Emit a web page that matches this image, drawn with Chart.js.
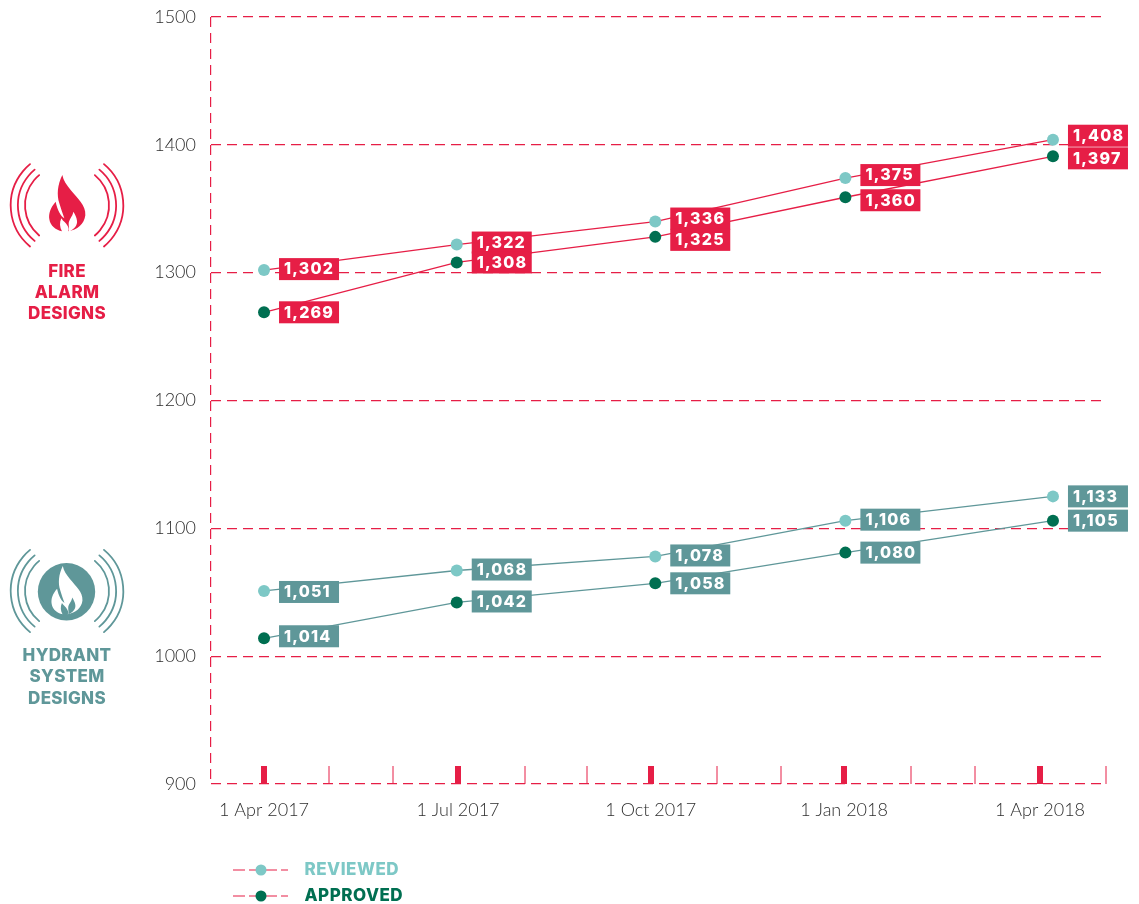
<!DOCTYPE html>
<html><head><meta charset="utf-8">
<style>html,body{margin:0;padding:0;background:#fff;overflow:hidden}canvas{display:block}</style>
<script src="https://cdn.jsdelivr.net/npm/chart.js@4/dist/chart.umd.min.js"></script>
</head><body><canvas id="c" width="1139" height="904"></canvas>
<script>
// Months since 1 Apr 2017 at which each reading sits
const readingMonths = [0, 2.98, 6.05, 8.99, 12.2];
// Values as plotted
const fireReviewed = [1302, 1322, 1340, 1374, 1404];
const fireApproved = [1269, 1308, 1328, 1359, 1391];
const hydrantReviewed = [1051, 1067, 1078, 1106, 1125];
const hydrantApproved = [1014, 1042, 1057, 1081, 1106];
// Values as printed on the labels
const fireReviewedPrinted = [1302, 1322, 1336, 1375, 1408];
const fireApprovedPrinted = [1269, 1308, 1325, 1360, 1397];
const hydrantReviewedPrinted = [1051, 1068, 1078, 1106, 1133];
const hydrantApprovedPrinted = [1014, 1042, 1058, 1080, 1105];
// Axis ticks
const yTicks = [900, 1000, 1100, 1200, 1300, 1400, 1500];
const monthTicks = [0, 1, 2, 3, 4.03, 5, 5.98, 7, 8, 8.97, 10, 11, 12, 13.02];
const majorTicks = [0, 3, 5.98, 8.97, 12];
const majorTickLabels = ['1 Apr 2017', '1 Jul 2017', '1 Oct 2017', '1 Jan 2018', '1 Apr 2018'];
const seriesNames = ['REVIEWED', 'APPROVED'];

const X_MIN = -0.82, X_MAX = 13.02;
const RED = '#e61e46', TEAL = '#5f9799', LIGHT = '#7dc8c6', DARK = '#006f51';
const labelShift = [[-1,-2,-3,-3,-4],[0,0,3,3,2],[1,-1,-1,-1,0],[-2,-1,0,0,0]];
const printed = [fireReviewedPrinted, fireApprovedPrinted, hydrantReviewedPrinted, hydrantApprovedPrinted];
const HEAVY = '800 16px Inter';
const HEAVY_TITLE = '800 17px Inter';

function series(values, line, point) {
  return {
    data: values.map((v, i) => ({x: readingMonths[i], y: v})),
    borderColor: line, borderWidth: 1.3, pointBackgroundColor: point, pointBorderColor: point,
    pointRadius: 6, pointBorderWidth: 0, tension: 0, fill: false, clip: false
  };
}

const FLAME = new Path2D('M187,75 C172,105 170,135 178,160 C182,175 188,190 193,205 C182,198 172,180 167,155 C152,172 145,190 148,208 C151,228 168,240 186,244 C179,232 178,218 184,205 C190,215 198,218 203,228 C207,235 207,240 204,244 C232,240 253,222 256,196 C258,165 232,145 212,120 C200,105 190,92 187,75 Z');
const FLAME_INNER = new Path2D('M220,185 C218,200 206,208 206,222 C206,232 209,240 205,246 C222,238 233,226 231,212 C230,202 225,193 220,185 Z');

function arcs(ctx, cx, cy, color) {
  ctx.save();
  ctx.strokeStyle = color; ctx.lineWidth = 1.8; ctx.lineCap = 'round';
  [53.5, 46.3, 39.2].forEach(r => {
    const a = 50.3 * Math.PI / 180;
    ctx.beginPath(); ctx.arc(cx - 2.8, cy, r, Math.PI - a, Math.PI + a); ctx.stroke();
    ctx.beginPath(); ctx.arc(cx + 2.8, cy, r, -a, a); ctx.stroke();
  });
  ctx.restore();
}
function sideText(ctx, lines, ys, color) {
  ctx.save();
  ctx.fillStyle = color; ctx.textAlign = 'center'; ctx.textBaseline = 'middle';
  ctx.font = HEAVY_TITLE; ctx.letterSpacing = '0.3px';
  lines.forEach((t, i) => ctx.fillText(t, 67, ys[i]));
  ctx.restore();
}
const decor = {
  id: 'decor',
  afterDraw(chart) {
    const ctx = chart.ctx;
    arcs(ctx, 67, 205.3, RED);
    ctx.save(); ctx.scale(1/3, 1/3); ctx.translate(0, 450);
    ctx.fillStyle = RED; ctx.fill(FLAME);
    ctx.fillStyle = '#fff'; ctx.fill(FLAME_INNER);
    ctx.restore();
    sideText(ctx, ['FIRE', 'ALARM', 'DESIGNS'], [272, 293, 314], RED);
    arcs(ctx, 67, 591, TEAL);
    ctx.save(); ctx.fillStyle = TEAL; ctx.beginPath(); ctx.arc(66.5, 591.7, 28.7, 0, 2 * Math.PI); ctx.fill(); ctx.restore();
    ctx.save(); ctx.translate(66.5, 591.7); ctx.scale(0.285, 0.285); ctx.translate(-200, -165);
    ctx.fillStyle = '#fff'; ctx.fill(FLAME);
    ctx.fillStyle = TEAL; ctx.fill(FLAME_INNER);
    ctx.restore();
    sideText(ctx, ['HYDRANT', 'SYSTEM', 'DESIGNS'], [656, 677, 699], TEAL);
    [[870, LIGHT, 0], [896, DARK, 1]].forEach(([y, col, i]) => {
      ctx.save();
      ctx.strokeStyle = RED; ctx.lineWidth = 1.2; ctx.setLineDash([12, 4]);
      ctx.beginPath(); ctx.moveTo(233, y); ctx.lineTo(288, y); ctx.stroke();
      ctx.setLineDash([]);
      ctx.fillStyle = col; ctx.beginPath(); ctx.arc(261, y, 5.5, 0, 2 * Math.PI); ctx.fill();
      ctx.font = HEAVY_TITLE; ctx.letterSpacing = '0.5px';
      ctx.textAlign = 'left'; ctx.textBaseline = 'middle';
      ctx.fillText(seriesNames[i], 304.5, y);
      ctx.restore();
    });
  }
};
const valueBoxes = {
  id: 'valueBoxes',
  afterDatasetsDraw(chart) {
    const ctx = chart.ctx;
    chart.data.datasets.forEach((ds, d) => {
      chart.getDatasetMeta(d).data.forEach((pt, i) => {
        const bx = pt.x + 15, cy = pt.y + labelShift[d][i];
        ctx.save();
        ctx.fillStyle = d < 2 ? RED : TEAL;
        ctx.fillRect(bx, cy - 11, 60, 22);
        ctx.fillStyle = '#fff'; ctx.font = HEAVY; ctx.letterSpacing = '1.2px';
        ctx.textAlign = 'left'; ctx.textBaseline = 'middle';
        ctx.fillText(printed[d][i].toLocaleString('en-US'), bx + 5, cy + 0.5);
        ctx.restore();
      });
    });
  }
};

new Chart(document.getElementById('c'), {
  type: 'line',
  data: { datasets: [
    series(fireReviewed, RED, LIGHT),
    series(fireApproved, RED, DARK),
    series(hydrantReviewed, TEAL, LIGHT),
    series(hydrantApproved, TEAL, DARK)
  ]},
  options: {
    responsive: false, animation: false, events: [],
    layout: { padding: { top: 17, right: 32, left: 0, bottom: 0 } },
    plugins: { legend: { display: false }, tooltip: { enabled: false } },
    scales: {
      x: {
        type: 'linear', min: X_MIN, max: X_MAX,
        afterBuildTicks: s => { s.ticks = [X_MIN, ...monthTicks].map(v => ({value: v})); },
        afterFit: s => { s.height = 120; },
        border: { display: false, dash: [10, 6] },
        grid: {
          drawOnChartArea: true, drawTicks: true, tickLength: -18,
          color: RED, tickColor: RED, tickBorderDash: [],
          lineWidth: c => c.tick && c.tick.value === X_MIN ? 1.2 : 0,
          tickWidth: c => {
            const v = c.tick && c.tick.value;
            if (v === X_MIN) return 0;
            return majorTicks.includes(v) ? 6 : 1;
          }
        },
        ticks: {
          autoSkip: false, maxRotation: 0, padding: 33, color: '#2e2e2e',
          font: { family: 'Lato', size: 18, weight: '300' },
          callback: v => { const i = majorTicks.indexOf(v); return i >= 0 ? majorTickLabels[i] : ''; }
        }
      },
      y: {
        type: 'linear', min: 900, max: 1500,
        afterBuildTicks: s => { s.ticks = yTicks.map(v => ({value: v})); },
        afterFit: s => { s.width = 211; s.paddingTop = 0; s.paddingBottom = 0; },
        border: { display: false, dash: [10, 6] },
        grid: { color: RED, lineWidth: 1.2, drawTicks: false },
        ticks: {
          padding: 15, color: '#2e2e2e',
          font: { family: 'Lato', size: 18, weight: '300' },
          callback: v => String(v)
        }
      }
    }
  },
  plugins: [valueBoxes, decor]
});
</script></body></html>
